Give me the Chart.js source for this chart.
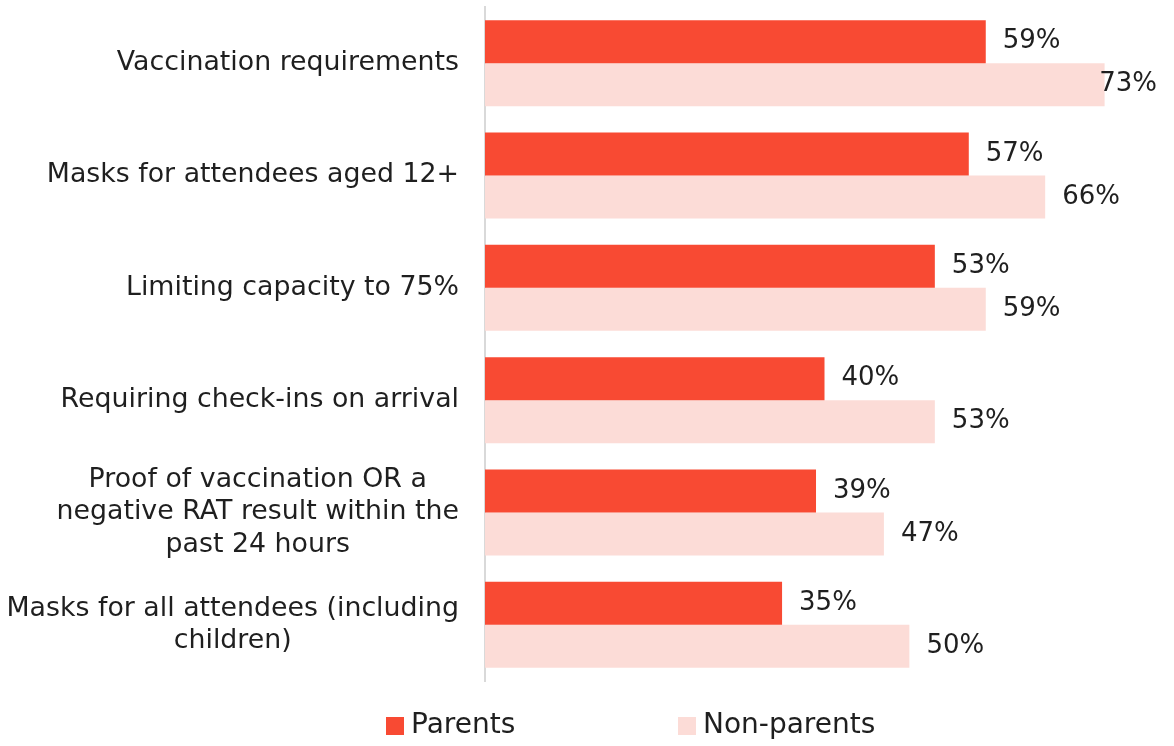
<!DOCTYPE html>
<html>
<head>
<meta charset="utf-8">
<script src="https://cdn.jsdelivr.net/npm/chart.js@4"></script>
<style>
  body { margin: 0; background: #fff; }
  #wrap { width: 1174px; height: 746px; position: relative; }
</style>
</head>
<body>
<div id="wrap"><canvas id="myChart"></canvas></div>
<script>
const categories = [
  ['Vaccination requirements'],
  ['Masks for attendees aged 12+'],
  ['Limiting capacity to 75%'],
  ['Requiring check-ins on arrival'],
  ['Proof of vaccination OR a', 'negative RAT result within the', 'past 24 hours'],
  ['Masks for all attendees (including', 'children)']
]
const parents = [59, 57, 53, 40, 39, 35]
const nonParents = [73, 66, 59, 53, 47, 50]

const FONT = '"DejaVu Sans", sans-serif'
const TEXT = '#1f1f1f'

// y labels: each block right aligned, lines centred inside it
const catLabels = {
  id: 'catLabels',
  afterDraw(chart) {
    const ctx = chart.ctx
    const y = chart.scales.y
    ctx.save()
    ctx.font = '26.8px ' + FONT
    ctx.fillStyle = TEXT
    ctx.textAlign = 'center'
    ctx.textBaseline = 'middle'
    const lh = 32.5
    categories.forEach((lines, i) => {
      const cy = y.getPixelForTick(i)
      let w = 0
      lines.forEach(l => { w = Math.max(w, ctx.measureText(l).width) })
      const cx = chart.chartArea.left - 26 - w / 2
      lines.forEach((l, j) => {
        ctx.fillText(l, cx, cy + (j - (lines.length - 1) / 2) * lh)
      })
    })
    ctx.restore()
  }
}

// value labels at bar ends, kept inside the canvas
const valueLabels = {
  id: 'valueLabels',
  afterDatasetsDraw(chart) {
    const ctx = chart.ctx
    ctx.save()
    ctx.font = '26px ' + FONT
    ctx.fillStyle = TEXT
    ctx.textBaseline = 'middle'
    chart.data.datasets.forEach((ds, di) => {
      chart.getDatasetMeta(di).data.forEach((bar, i) => {
        const txt = ds.data[i] + '%'
        const w = ctx.measureText(txt).width
        const x = Math.min(bar.x + 17, chart.width - 17 - w)
        ctx.fillText(txt, x, bar.y)
      })
    })
    ctx.restore()
  }
}

// legend drawn by hand for the wide gap between items
const bottomLegend = {
  id: 'bottomLegend',
  afterDraw(chart) {
    const ctx = chart.ctx
    ctx.save()
    ctx.font = '28px ' + FONT
    ctx.textBaseline = 'middle'
    const cy = 726
    chart.data.datasets.forEach((ds, i) => {
      const x = 386 + i * 292
      ctx.fillStyle = ds.backgroundColor
      ctx.fillRect(x, cy - 9, 18, 18)
      ctx.fillStyle = TEXT
      ctx.fillText(ds.label, x + 25, cy)
    })
    ctx.restore()
  }
}

const data = {
  labels: categories.map(c => c.join(' ')),
  datasets: [{
    label: 'Parents',
    data: parents,
    backgroundColor: '#F84A33'
  }, {
    label: 'Non-parents',
    data: nonParents,
    backgroundColor: '#FCDCD7'
  }]
}

const config = {
  type: 'bar',
  data: data,
  options: {
    indexAxis: 'y',
    responsive: true,
    maintainAspectRatio: false,
    animation: false,
    categoryPercentage: 0.765,
    barPercentage: 1,
    layout: {
      padding: { top: 7, right: 10, bottom: 65, left: 0 }
    },
    plugins: {
      legend: { display: false },
      tooltip: { enabled: false }
    },
    scales: {
      x: {
        display: false,
        min: 0,
        max: 80
      },
      y: {
        ticks: { display: false },
        grid: { display: false },
        border: { display: true, color: '#D9D9D9', width: 2 },
        afterFit(scale) { scale.width = 485 }
      }
    }
  },
  plugins: [catLabels, valueLabels, bottomLegend]
}

new Chart(document.getElementById('myChart'), config)
</script>
</body>
</html>
